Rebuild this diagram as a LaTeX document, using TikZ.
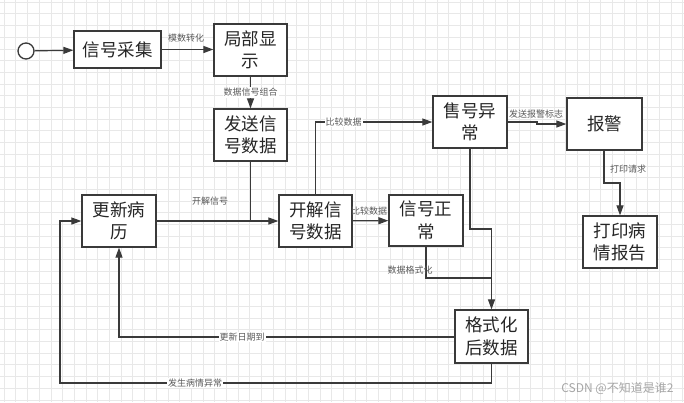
\documentclass[tikz,border=0pt]{standalone}
\usepackage{fontspec}
\setmainfont{Noto Sans CJK SC}
\usetikzlibrary{arrows.meta}
\definecolor{lncol}{HTML}{3A3A3A}
\definecolor{gridcol}{HTML}{E8E8E8}
\definecolor{lblcol}{HTML}{5A5A5A}
\tikzset{
  box/.style={draw=lncol, line width=1.3pt, fill=white, align=center, font=\fontsize{17.5}{22.5}\selectfont, inner sep=0pt, text=black!85},
  conn/.style={draw=lncol, line width=1.2pt},
  arr/.style={conn, -{Triangle[length=10pt,width=7pt]}},
  lbl/.style={font=\fontsize{9}{10}\selectfont, text=lblcol, inner sep=1pt},
  lblw/.style={lbl, fill=white}
}
\begin{document}
\begin{tikzpicture}[x=1pt,y=-1pt]
\useasboundingbox (0,0) rectangle (684,402);
\fill[white] (0,0) rectangle (684,402);
\foreach \i in {0,...,58} {\draw[gridcol, line width=0.5pt] (4+11.7*\i,0) -- (4+11.7*\i,402);}
\foreach \i in {0,...,34} {\draw[gridcol, line width=0.5pt] (0,2+11.7*\i) -- (684,2+11.7*\i);}

\node[draw=lncol, line width=1.3pt, circle, fill=white, minimum size=16pt, inner sep=0pt] (st) at (26,51) {};
\node[box, minimum width=87pt, minimum height=37pt] (cj) at (117.5,49.5) {信号采集};
\node[box, minimum width=73pt, minimum height=52pt] (jb) at (250.5,50) {局部显\\示};
\node[box, minimum width=73pt, minimum height=52pt] (fs) at (250.5,135) {发送信\\号数据};
\node[box, minimum width=74pt, minimum height=52pt] (gx) at (119,221) {更新病\\历};
\node[box, minimum width=73pt, minimum height=52pt] (kj) at (315.5,221) {开解信\\号数据};
\node[box, minimum width=74pt, minimum height=51pt] (zc) at (426,220.5) {信号正\\常};
\node[box, minimum width=74pt, minimum height=52pt] (yc) at (470,122) {售号异\\常};
\node[box, minimum width=75pt, minimum height=52pt] (bj) at (604.5,124) {报警};
\node[box, minimum width=74pt, minimum height=52pt] (dy) at (620,242) {打印病\\情报告};
\node[box, minimum width=73pt, minimum height=53pt] (gs) at (491.5,336.5) {格式化\\后数据};

\coordinate (b1) at (604,183);
\coordinate (b2) at (620,183);
\coordinate (y1) at (470,229);
\coordinate (y2) at (491.5,229);
\coordinate (z1) at (426,278);
\coordinate (z2) at (491.5,278);
\coordinate (g1) at (119,337);
\coordinate (h1) at (491.5,383);
\coordinate (h2) at (60,383);
\coordinate (h3) at (60,221);
\coordinate (j1) at (537,122);
\coordinate (j2) at (537,124);

\draw[arr] (st) -- (cj);
\draw[arr] (cj.east) -- (jb.west |- cj.east);
\node[lbl] (l1) at (186,38) {模数转化};
\draw[arr] (jb) -- (fs) node[lblw, midway] (l2) {数据信号组合};
\draw[conn] (fs.south) -- (fs.south |- kj.west);
\draw[arr] (gx) -- (kj);
\node[lbl] (l3) at (210,201) {开解信号};
\draw[arr] (kj.north) |- (yc.west) node[lblw, pos=0.62] (l4) {比较数据};
\draw[arr] (kj) -- (zc);
\node[lbl] (l5) at (369,211) {比较数据};
\draw[arr] (yc.east |- j1) -- (j1) -- (j2) -- (bj.west |- j2);
\node[lbl] (l6) at (536,114) {发送报警标志};
\draw[arr] (bj.south -| b1) -- (b1) -- (b2) -- (dy.north -| b2);
\node[lbl] (l7) at (628,169) {打印请求};
\draw[arr] (yc.south -| y1) -- (y1) -- (y2) -- (gs.north);
\draw[conn] (zc.south -| z1) -- (z1) -- (z2);
\node[lbl] (l8) at (410,270) {数据格式化};
\draw[arr] (gs.west |- g1) -- (g1) -- (gx.south);
\node[lblw] (l9) at (242,337) {更新日期到};
\draw[arr] (gs.south) -- (h1) -- (h2) -- (h3) -- (gx.west);
\node[lblw] (l10) at (195,383) {发生病情异常};
\node[font=\fontsize{12}{14}\selectfont, text=black!35, anchor=east] (wm) at (677,388) {CSDN @不知道是谁2};
\end{tikzpicture}
\end{document}
